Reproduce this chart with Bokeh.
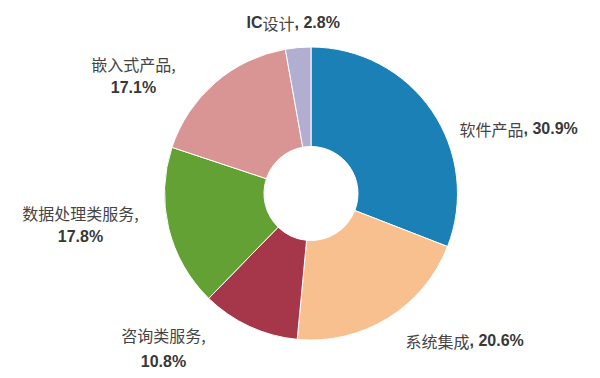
import math
from bokeh.plotting import figure
from bokeh.models import Range1d, ColumnDataSource
from bokeh.embed import file_html
from bokeh.resources import INLINE
from bokeh.core.properties import value

# ---- data ----
categories = ["软件产品", "系统集成", "咨询类服务", "数据处理类服务", "嵌入式产品", "IC设计"]
shares = [30.9, 20.6, 10.8, 17.8, 17.1, 2.8]
colors = ["#1a80b6", "#f9c08f", "#a6364a", "#64a135", "#d99594", "#b2aed1"]

# ---- layout (screen pixel positions of labels) ----
label_layout = {
    "软件产品": ("inline", 523, 128),
    "系统集成": ("inline", 469, 340),
    "IC设计": ("inline", 294, 22),
    "嵌入式产品": ("stack", 133, 63, 87),
    "数据处理类服务": ("stack", 80, 212, 236),
    "咨询类服务": ("stack", 163, 334, 361),
}

W, H = 600, 378
CX, CY, R_OUT, R_IN = 310.5, 193, 146.5, 47
FS = 16

def sy(y):
    return H - y

p = figure(width=W, height=H, output_backend="svg", toolbar_location=None,
           x_range=Range1d(0, W), y_range=Range1d(0, H), min_border=0)
p.axis.visible = False
p.grid.visible = False
p.outline_line_color = None
p.background_fill_color = "white"
p.border_fill_color = "white"

total = sum(shares)
starts, ends = [], []
cum = 0.0
for v in shares:
    starts.append(math.pi / 2 - 2 * math.pi * cum / total)
    cum += v
    ends.append(math.pi / 2 - 2 * math.pi * cum / total)

src = ColumnDataSource(dict(x=[CX] * len(shares), y=[sy(CY)] * len(shares),
                            start=starts, end=ends, color=colors))
p.annular_wedge(x="x", y="y", inner_radius=R_IN, outer_radius=R_OUT,
                start_angle="start", end_angle="end", direction="clock",
                fill_color="color", line_color="white", line_width=1, source=src)

# label segments grouped by (font, style, align)
groups = {}
def add(font, bold, align, x, y, t, color):
    key = (font, bold, align, color)
    g = groups.setdefault(key, dict(x=[], y=[], text=[]))
    g["x"].append(x); g["y"].append(sy(y)); g["text"].append(t)

CJK = "Noto Sans CJK SC"
LAT = "Liberation Sans"
NAME_C = "#454545"
NUM_C = "#383838"

for name, v in zip(categories, shares):
    lay = label_layout[name]
    pct = f"{v:.1f}%"
    if lay[0] == "inline":
        _, ax, ay = lay
        prefix = ""
        for ch in name:
            if ord(ch) < 128:
                prefix += ch
            else:
                break
        rest = name[len(prefix):]
        add(LAT, True, "left", ax, ay, ", " + pct, NUM_C)
        add(CJK, False, "right", ax, ay, rest, NAME_C)
        if prefix:
            add(LAT, True, "right", ax - FS * len(rest), ay, prefix, NUM_C)
    else:
        _, cx, y1, y2 = lay
        add(CJK, False, "center", cx, y1, name + ",", NAME_C)
        add(LAT, True, "center", cx, y2, pct, NUM_C)

for (font, bold, align, color), g in groups.items():
    p.text(x=g["x"], y=g["y"], text=g["text"], text_font=value(font),
           text_font_size=f"{FS}px", text_font_style="bold" if bold else "normal",
           text_align=align, text_baseline="middle", text_color=color)

open("out.html", "w").write(file_html(p, INLINE))
